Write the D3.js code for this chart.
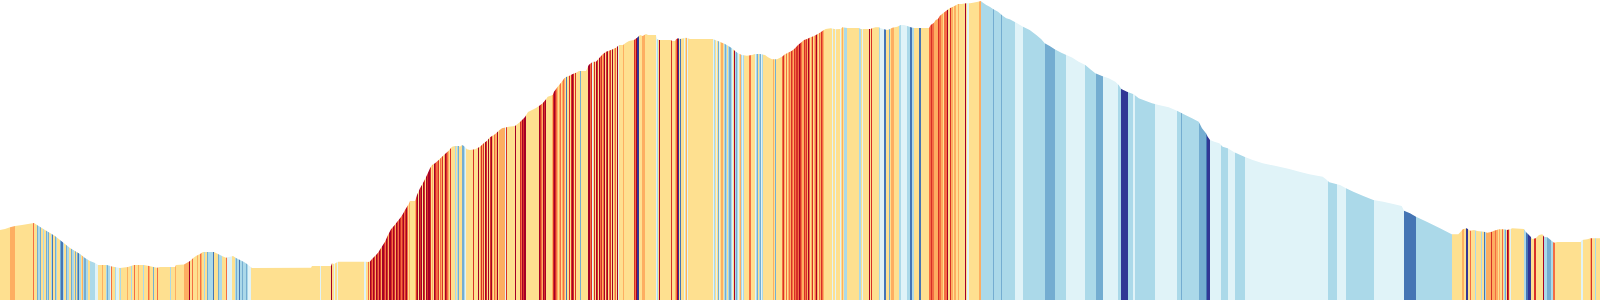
<!DOCTYPE html>
<html>
<head>
<meta charset="utf-8">
<script src="https://cdn.jsdelivr.net/npm/d3@7"></script>
<style>
body { margin: 0; background: #fff; }
svg { display: block; }
</style>
</head>
<body>
<script>
// profile: [distance, elevation]
const profile = [
  [0,70],[5,71],[10,72.7],[15,74],[22,75],[28,76],[34,77],[37,75],[45,70],[50,67],[55,64],[60,60],[65,56],[70,52],
  [75,49],[80,46],[85,42],[90,39],[95,37],[98,35],[107,35],[112,33.5],[120,32],[128,33],[134,35],[144,35],[149,34],
  [157,32.3],[160,33],[175,33],[176,35],[184,35.5],[187,37.3],[190,39],[193,41.7],[196,44],[200,46],[203,48],[214,48],
  [218,46],[222,44],[226,42.3],[229,43],[233,44],[236,42],[240,40],[244,38],[247,36],[250,33.5],[252,32],[311,32.3],
  [312,34],[331,34],[332,36.7],[334,36],[338,38.3],[366,38.3],[368,38],[370,38.5],[372,41],[374,43],[376,45],[378,47.3],
  [381,52],[385,58.3],[388,65],[391,70.7],[394.7,75],[398,79.3],[401,83],[404,88],[405,90],[408.7,96],[410,99],[415,99],
  [417,105],[420,111.7],[423.7,118.3],[427,125],[430,131.7],[432,135],[435,136.7],[438.7,140],[442,143.3],[445,146],
  [448.7,149.3],[452,153.3],[455,154],[458.7,154],[460,153.3],[462,155],[464,154],[467,150.7],[470,150],[475,150.7],
  [480,153.3],[483.7,156.7],[487,159.3],[490,162.7],[495,165.7],[498.7,169.3],[502,171.7],[508.7,173.3],[515,174],
  [520,178],[525,183],[528,188],[536,192],[539,194],[542.7,196.7],[546,200.7],[547.7,203.3],[552.7,205],[554,208.3],
  [557.7,213.3],[561,217.3],[564.3,221.7],[566.7,223.3],[569,224],[572.7,226],[576,227.3],[579,229],[586,229],
  [588.7,235],[592.7,238.3],[596,238.3],[599,241.7],[602.7,245.7],[606,248.3],[609,249.3],[612.7,250.7],[616,252.3],
  [619,255],[623,255],[626,257.3],[629,259],[634,260],[637.7,262.7],[640,265],[642.7,264],[646,266],[648,265],[656,265],
  [657,261],[659,260],[671,260],[672,259],[675,259],[676,260.7],[678,261.7],[680,261],[686,262.3],[690,261],[713,261],
  [715,260],[718,259],[722,257.3],[725,256],[728,254.3],[732,251.7],[735,249],[738,246.7],[742,245],[747,244.3],
  [752,245],[755,246],[760,246],[765,245],[768,242.7],[772,240.7],[777,240.7],[782,243.3],[785,245.7],[788,247.3],
  [792,249.3],[795,251.7],[798,255],[802,258.3],[804,260],[807,261],[810.7,262.7],[814,264],[817.3,265.7],[820.7,267.7],
  [822.3,269],[825.7,271],[830.7,271.7],[835.7,270.7],[840.7,271],[842.3,272.7],[847.3,272],[859,272],[860.7,271],
  [870.7,271],[872,271.7],[875.7,272.7],[879,272.7],[880.7,271.7],[884,270.7],[887.3,270],[890,271],[892.3,272.3],
  [897.3,273.3],[900.7,275],[904,275],[907.3,274],[910.7,272.7],[914,272],[929,272],[930.7,275],[934,277.3],[935.7,280],
  [938,281],[939.7,284],[943,286.7],[946.3,289.3],[949.7,291.7],[953,293.3],[956.3,295],[958,296],[961.3,296],
  [966.3,296.7],[970,296.7],[973,297.3],[978,298.3],[980.7,299],[983,297.3],[986.3,295],[989.7,293.3],[993,291],
  [998,288.3],[1003,284],[1006.3,281.7],[1009.7,280.7],[1016.3,277.3],[1023,273.3],[1029.7,270],[1036.3,265],
  [1041.3,260.7],[1044.7,256.7],[1049.7,254],[1054.7,250.7],[1061.3,247.3],[1066.3,245],[1072,242.5],[1078.7,238.3],
  [1085.3,235],[1090.3,230.7],[1095.3,226.7],[1102,224],[1108.7,221.7],[1115.3,218.3],[1118.7,215],[1121.3,211],
  [1127,208.3],[1133.7,205.7],[1138.7,201.7],[1145.3,199.3],[1152,196.7],[1158.7,195],[1168.7,192.7],[1177,189.3],
  [1185.3,185],[1192,181.7],[1198.7,178.3],[1202,171.7],[1206,166.7],[1207.7,163.3],[1210,160],[1214.3,158.3],
  [1219.3,156.7],[1222.7,153.3],[1227.7,151.7],[1234.3,147.7],[1244.3,143.3],[1252.7,140],[1262.7,136.7],[1276,134],
  [1289.3,131],[1299.3,128.3],[1309.3,125.7],[1322.7,123.3],[1326,120.7],[1329.3,117.7],[1336,116],[1340,115],
  [1346,111.7],[1353.3,108.3],[1363.3,104],[1373.3,100],[1383.3,98.3],[1393.3,96],[1401.7,94],[1404,89.3],[1410,86.7],
  [1416,83.3],[1426.7,78.3],[1440,71.7],[1451.7,65.7],[1458.3,65.7],[1460.7,68.3],[1462.7,70.7],[1466.7,71.7],
  [1470,69.3],[1474,70],[1477.3,69],[1484,68.3],[1487.3,67.3],[1492,68.3],[1494,69.3],[1499,70.7],[1504,70.7],
  [1507,70],[1510,70.7],[1512.3,71.7],[1524,71],[1525.7,68.3],[1528,66],[1530.7,63.3],[1532.3,61],[1535.7,61.7],
  [1539,65],[1542.3,65.7],[1544,63.3],[1547.3,62.7],[1550.7,60],[1554,57.3],[1557.3,58],[1580.7,58],[1582,60],
  [1587.3,60.7],[1590.7,61.7],[1600,61.7]
];

// stripes: [start distance, colour band 0 (coldest) .. 9 (warmest)]
const stripes = [
  [0,5],[10,6],[12.7,5],[13.3,6],[14.7,5],[33,7],[34,5],[37,2],[38,3],[40,2],[41,5],[43,3],[44,5],[46,2],[47,3],[48,2],
  [49,5],[51,3],[52,1],[53,5],[55,2],[56,3],[57,5],[60,2],[61,1],[63,3],[64,5],[66,2],[67,3],[69,5],[71,2],[72,3],
  [74,5],[75,2],[76,5],[77,2],[78,1],[79,3],[81,5],[82,6],[83,3],[84,2],[86,3],[88,5],[90,3],[95,4],[98,5],[102,6],
  [103,5],[106,3],[107,2],[108,3],[110,4],[111,7],[112,5],[115,3],[116,4],[119,5],[120,3],[121,5],[127,6],[128,5],
  [131,3],[132,5],
  [134,7],[135,5],[138,6],[139,5],[143,3],[144,5],[148,7],[149,6],[150,5],[153,2],[154,5],[157,7],[158,5],[170,3],
  [171,5],[175,6],[176,5],[184,6],[189,9],[190,5],[192,7],[193,5],[197,6],[198,5],[200,7],[201,6],[202,5],[204,3],
  [205,5],[207,2],[208,3],[213,1],[214,5],[218,2],[219,3],[222,5],[226,7],[227,4],[232,5],[235,3],[236,2],[237,3],
  [239,1],[240,3],[242,2],[243,3],[246,2],[247,3],[248,4],[251,5],
  [320,4],[321,5],[331,9],[332,5],[334,4],[335,5],[337,4],[338,5],[364,4],[366,5],[368,7],[369,5],[370,9],[371,8],
  [372,7],[373,9],[374,8],[375,6],[376,9],[377,8],[378,7],[379,9],[380,8],[381,6],[382,9],[384,8],[385,7],[386,9],
  [387,8],[388,6],[389,9],[391,8],[392,7],[393,9],[394,8],[395,6],[396,9],[397,8],[398,7],[399,9],[400,8],[401,7],
  [402,8],[403,9],[404,7],[405,8],[406,9],[407,7],[408,5],[409,6],[410,5],[415,6],[416,8],[417,9],[418,5],[419,9],
  [420,8],[421,9],[422,5],[423,9],[424,8],[425,5],[426,9],[427,8],[428,9],[430,8],[431,5],[432,6],[433,5],[434,9],
  [435,8],[436,7],[438,8],[439,5],[440,7],[441,6],[442,8],[443,5],[444,6],[445,9],[446,8],[447,7],[448,6],[449,5],
  [450,8],[451,5],[455,3],[456,5],[457,3],[458,2],[459,5],[462,2],[464,3],[465,4],[466,5],[473,8],[474,5],[478,9],
  [479,5],[480,6],[481,8],[482,6],[483,8],[484,5],[485,9],[486,8],[487,5],[488,9],[489,5],[490,8],[491,9],[492,6],
  [493,5],[494,7],[495,6],[497,9],[498,5],[499,6],[505,4],[506,8],[507,5],[515,9],[516,5],[520,8],[521,7],[522,9],
  [523,8],[524,9],[526,5],
  [539,9],[540,8],[541,7],[542,6],[543,9],[544,8],[545,9],[546,5],[552,6],[553,8],[554,9],[555,8],[556,7],[557,6],
  [558,5],[559,6],[560,7],[561,5],[562,6],[563,7],[564,6],[565,5],[566,1],[567,5],[569,8],[570,5],[571,8],[572,9],
  [573,8],[574,5],[575,8],[576,5],[580,2],[581,5],[588,9],[590,7],[591,8],[592,4],[593,5],[594,8],[595,5],[596,9],
  [597,8],[598,5],[599,9],[600,7],[601,8],[602,6],[603,7],[604,9],[605,5],[606,8],[607,9],[608,5],[609,7],[610,8],
  [611,5],[612,9],[613,5],[614,6],[615,7],[616,5],[617,9],[618,4],[619,5],[623,6],[624,5],[634,8],[635,7],[636,9],
  [637,0],[639,5],[642,6],[645,5],[656,4],[657,3],[658,5],[659,9],[660,5],
  [671,8],[672,5],[675,6],[676,7],[677,9],[678,0],[679,5],[680,1],[681,5],[684,4],[685,5],[686,6],[687,4],[688,5],
  [713,4],[714,3],[715,5],[716,4],[717,5],[718,2],[719,4],[720,5],[721,6],[723,5],[724,3],[725,2],[726,3],[727,5],
  [728,3],[729,2],[731,3],[732,4],[733,5],[734,9],[735,3],[736,2],[737,3],[738,4],[739,5],[740,6],[741,3],[742,4],
  [743,3],[744,5],[749,7],[751,5],[755,4],[756,3],[757,2],[758,5],[759,3],[760,2],[761,4],[762,3],[763,5],[773,6],
  [774,5],[775,2],[776,5],[782,7],[783,8],[784,6],[785,5],[786,7],[787,5],[788,6],[789,7],[790,6],[791,8],[792,7],
  [793,6],[794,8],[795,7],[796,8],[798,7],[799,9],[800,8],[801,7],[802,6],
  [804,8],[805,7],[806,8],[807,6],[808,9],[809,7],[810,5],[811,6],[812,8],[813,5],[814,6],[815,7],[816,9],[817,6],
  [818,5],[819,7],[820,6],[821,8],[822,7],[823,6],[824,5],[832,4],[833,5],[835,4],[836,5],[840,4],[841,5],[842,6],
  [843,5],[844,3],[847,5],[859,3],[861,5],[862,4],[863,5],[869,9],[870,5],[871,8],[872,5],[879,3],[880,4],[884,1],
  [886,5],[889,2],[890,5],[891,6],[894,5],[899,3],[901,4],[907,3],[910,1],[912,3],[914,5],[919,1],[921,5],[929,7],
  [931,8],[932,7],[934,6],
  [938,8],[939,7],[941,6],[943,5],[944,7],[947,9],[948,5],[950,8],[951,6],[953,5],[954,6],[956,5],[958,6],[959,5],
  [964.7,9],[965.7,5],[967.3,4],[969,5],[978.7,6],[980.7,3],[993,2],[994,3],[1000.7,2],[1002.3,3],[1015.3,4],[1023,3],
  [1044.7,2],[1054.7,3],[1066.3,4],
  [1085,3],[1096,2],[1103,4],[1118,3],[1121,0],[1128,3],[1133,4],[1135,3],[1155,4],[1177,3],[1181,2],[1182,3],
  [1199,2],[1206,1],[1207,0],[1210,4],[1221,3],[1228,4],[1235,3],[1245,4],[1328,3],[1337,4],[1346,3],[1374,4],
  [1404,1],[1416,3],[1452,5],[1462,6],[1464,5],[1466,0],[1468,5],[1470,7],[1471,5],
  [1475,3],[1476,5],[1481,3],[1482,5],[1484,1],[1485,3],[1486,6],[1491,8],[1492,6],[1495,7],[1496,6],[1498,5],
  [1499,6],[1500,5],[1502,7],[1503,5],[1504,3],[1505,2],[1506,5],[1507,9],[1508,8],[1509,5],[1510,4],[1511,5],
  [1524,3],[1525.7,1],[1528,0],[1530.7,5],[1534,8],[1535.7,5],[1543,9],[1544,3],[1547,2],[1551,3],[1553,7],
  [1554.7,5],[1581,4],[1582.5,5],[1590,6],[1591,8],[1592,5],[1595,3],[1596,5]
];

const bandColors = ["#313695","#4575b4","#74add1","#abd9e9","#e0f3f8","#fee090","#fdae61","#f46d43","#d73027","#a50026"];
const maxDist = 1600;

const w = 1600;
const h = 300;

const svg = d3.select("body")
  .append("svg")
  .attr("width", w)
  .attr("height", h);

const x = d3.scaleLinear().domain([0, maxDist]).range([0, w]);
const y = d3.scaleLinear().domain([0, 300]).range([h, 0]);
const color = d3.scaleOrdinal().domain(d3.range(10)).range(bandColors);

const area = d3.area()
  .x(d => x(d[0]))
  .y0(h)
  .y1(d => y(d[1]));

// the profile is only a mask, the stripes give the colour
svg.append("clipPath")
  .attr("id", "profile-clip")
  .append("path")
  .attr("d", area(profile));

const ends = stripes.map((d, i) => i + 1 < stripes.length ? stripes[i + 1][0] : maxDist);

svg.append("g")
  .attr("clip-path", "url(#profile-clip)")
  .selectAll("rect")
  .data(stripes)
  .enter()
  .append("rect")
  .attr("x", d => Math.round(x(d[0])))
  .attr("y", 0)
  .attr("width", (d, i) => Math.max(0, Math.round(x(ends[i])) - Math.round(x(d[0]))))
  .attr("height", h)
  .attr("fill", d => color(d[1]));
</script>
</body>
</html>
